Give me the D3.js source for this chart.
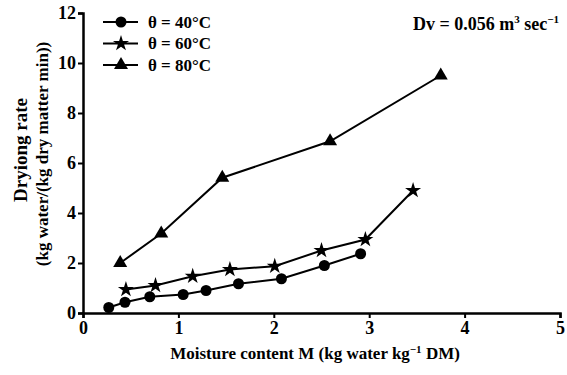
<!DOCTYPE html>
<html>
<head>
<meta charset="utf-8">
<script src="https://cdn.jsdelivr.net/npm/d3@7"></script>
<style>
  body { margin: 0; background: #fff; }
</style>
</head>
<body>
<svg id="chart" width="567" height="375"></svg>
<script>
// moisture content M vs drying rate
var m40 = [0.27, 0.44, 0.70, 1.05, 1.29, 1.63, 2.08, 2.53, 2.91];
var r40 = [0.22, 0.43, 0.65, 0.74, 0.90, 1.17, 1.37, 1.90, 2.37];
var m60 = [0.45, 0.76, 1.15, 1.54, 2.01, 2.50, 2.96, 3.46];
var r60 = [0.94, 1.10, 1.47, 1.74, 1.87, 2.50, 2.94, 4.90];
var m80 = [0.39, 0.82, 1.46, 2.59, 3.75];
var r80 = [2.00, 3.18, 5.41, 6.87, 9.50];
var seriesNames = ["θ = 40°C", "θ = 60°C", "θ = 80°C"];
var xTicks = [0, 1, 2, 3, 4, 5];
var yTicks = [0, 2, 4, 6, 8, 10, 12];

var serif = "'Liberation Serif', 'Times New Roman', Times, 'DejaVu Serif', serif";

var svg = d3.select("#chart");
var margin = {top: 13, right: 7, bottom: 62, left: 83};
var width = +svg.attr("width") - margin.left - margin.right;
var height = +svg.attr("height") - margin.top - margin.bottom;
var g = svg.append("g").attr("transform", "translate(" + margin.left + "," + margin.top + ")");

var x = d3.scaleLinear().domain([0, 5]).range([0, width]);
var y = d3.scaleLinear().domain([0, 12]).range([height, 0]);

var series = [
  {name: seriesNames[0], sym: d3.symbolCircle, size: 95, pts: m40.map((d, i) => [d, r40[i]])},
  {name: seriesNames[1], sym: d3.symbolStar, size: 80, pts: m60.map((d, i) => [d, r60[i]])},
  {name: seriesNames[2], sym: d3.symbolTriangle, size: 85, pts: m80.map((d, i) => [d, r80[i]])}
];

var line = d3.line().x(d => x(d[0])).y(d => y(d[1]));

series.forEach(s => {
  g.append("path")
    .attr("d", line(s.pts))
    .attr("fill", "none")
    .attr("stroke", "#000")
    .attr("stroke-width", 2);
  g.selectAll(null)
    .data(s.pts)
    .enter().append("path")
      .attr("d", d3.symbol().type(s.sym).size(s.size))
      .attr("transform", d => "translate(" + x(d[0]) + "," + y(d[1]) + ")")
      .attr("fill", "#000");
});

var xAxis = g.append("g")
  .attr("transform", "translate(0," + height + ")")
  .call(d3.axisBottom(x).tickValues(xTicks).tickSize(5).tickPadding(3).tickFormat(d3.format("d")));
var yAxis = g.append("g")
  .call(d3.axisLeft(y).tickValues(yTicks).tickSize(5).tickPadding(2).tickFormat(d3.format("d")));

[xAxis, yAxis].forEach(a => {
  a.select(".domain").attr("stroke", "#000").attr("stroke-width", 2.5);
  a.selectAll(".tick line").attr("stroke", "#000").attr("stroke-width", 2);
  a.selectAll(".tick text").style("font-size", "18px");
});

// legend
var legend = g.append("g").attr("transform", "translate(20,9)");
series.forEach((s, i) => {
  var row = legend.append("g").attr("transform", "translate(0," + (i * 21.5) + ")");
  row.append("line").attr("x1", 0).attr("x2", 35).attr("stroke", "#000").attr("stroke-width", 2);
  row.append("path")
    .attr("d", d3.symbol().type(s.sym).size(s.size))
    .attr("transform", "translate(18,0)");
  row.append("text").attr("x", 45).attr("dy", "0.35em").style("font-size", "17px").text(s.name);
});

// annotation
var note = svg.append("text")
  .attr("x", 559).attr("y", 30)
  .attr("text-anchor", "end")
  .style("font-size", "18px");
note.append("tspan").text("Dv = 0.056 m");
note.append("tspan").attr("dy", -7).style("font-size", "11px").text("3");
note.append("tspan").attr("dy", 7).text(" sec");
note.append("tspan").attr("dy", -7).style("font-size", "11px").text("−1");

// axis titles
var xt = svg.append("text")
  .attr("x", 315).attr("y", 359)
  .attr("text-anchor", "middle")
  .style("font-size", "17px");
xt.append("tspan").text("Moisture content M (kg water kg");
xt.append("tspan").attr("dy", -6).style("font-size", "11px").text("−1");
xt.append("tspan").attr("dy", 6).text(" DM)");

svg.append("text")
  .attr("transform", "translate(27,150) rotate(-90)")
  .attr("text-anchor", "middle")
  .style("font-size", "19px")
  .text("Dryiong rate");
svg.append("text")
  .attr("transform", "translate(48,154) rotate(-90)")
  .attr("text-anchor", "middle")
  .style("font-size", "17px")
  .text("(kg water/(kg dry matter min))");

// serif bold everywhere, set on each text so the axis defaults don't win
svg.selectAll("text")
  .style("font-family", serif)
  .style("font-weight", "bold")
  .style("fill", "#000");
</script>
</body>
</html>
